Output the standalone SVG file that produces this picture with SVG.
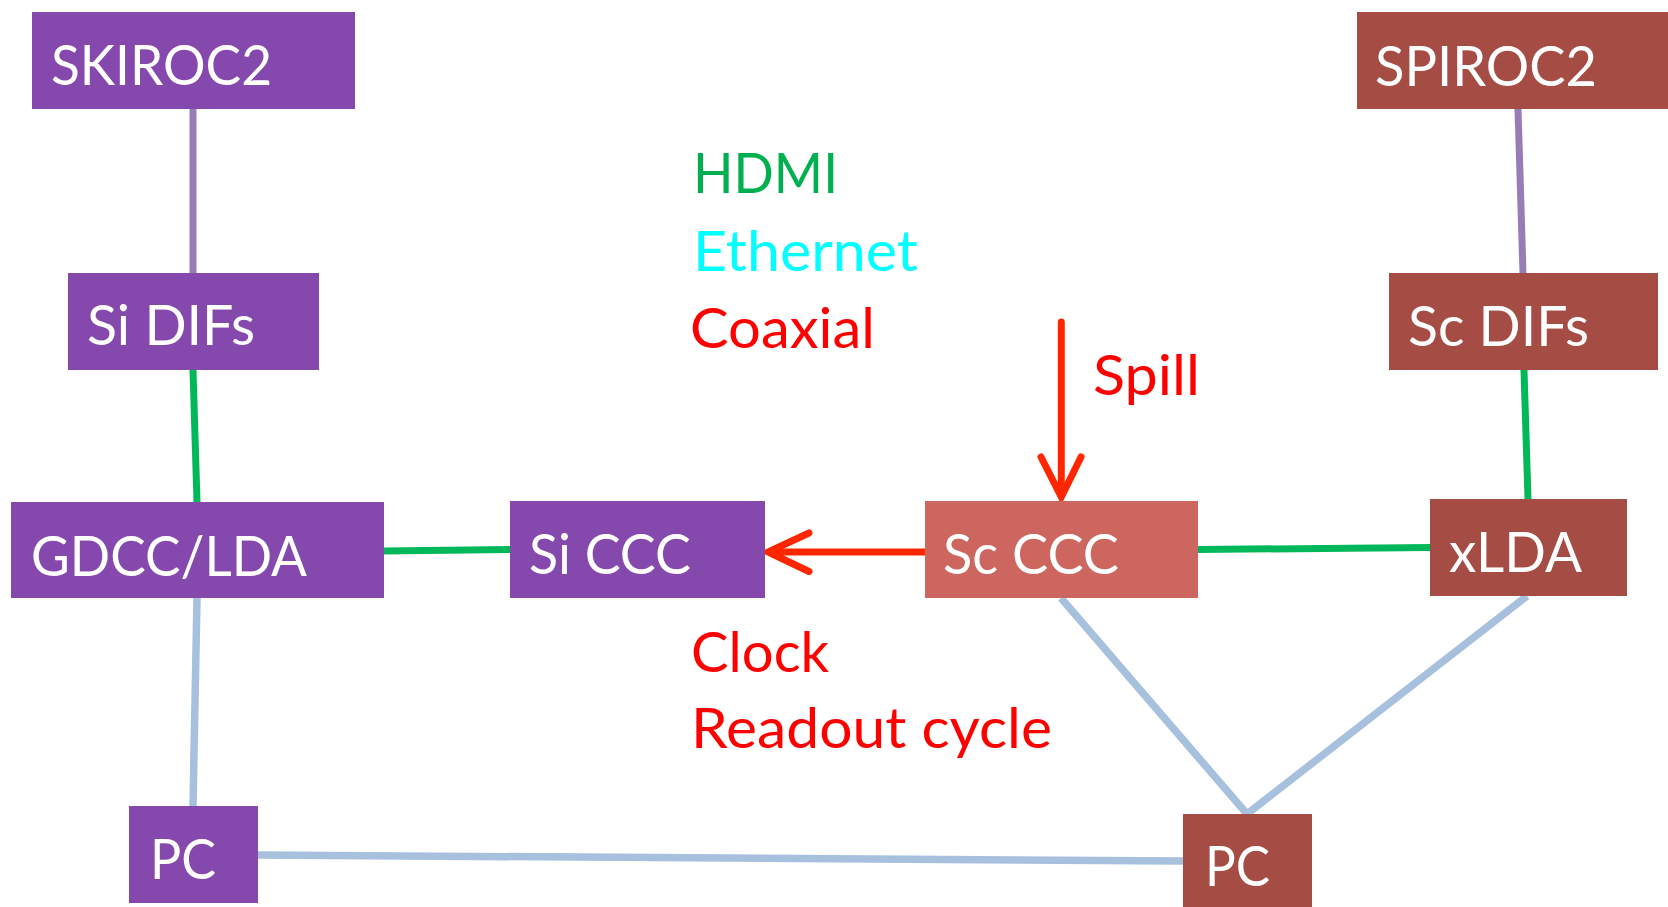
<svg xmlns="http://www.w3.org/2000/svg" width="1668" height="907" viewBox="0 0 1668 907">
  <style>
    .si { fill: #8548AD; }
    .sc { fill: #A54C45; }
    .sclight { fill: #CC665E; }
    .lbl { font-family: Lato, "Open Sans", "Liberation Sans", sans-serif; font-size: 56px; fill: #FFFFFF; }
    .leg { font-family: Lato, "Open Sans", "Liberation Sans", sans-serif; font-size: 56px; }
    .hdmi { stroke: #00B85A; stroke-width: 7; fill: none; }
    .eth { stroke: #A7C0DE; stroke-width: 7.5; fill: none; }
    .asic { stroke: #967DB6; stroke-width: 7; fill: none; }
    .coax { stroke: #FF2600; stroke-width: 7; fill: none; stroke-linecap: round; stroke-linejoin: miter; }
  </style>
  <rect width="1668" height="907" fill="#FFFFFF"/>

  <!-- cabling -->
  <g id="connectors">
    <line class="asic" x1="193" y1="109" x2="193" y2="273"/>
    <line class="asic" x1="1518" y1="109" x2="1523" y2="273"/>
    <line class="hdmi" x1="193" y1="370" x2="197" y2="502"/>
    <line class="hdmi" x1="1524" y1="370" x2="1528" y2="499"/>
    <line class="hdmi" x1="384" y1="551" x2="510" y2="549.5"/>
    <line class="hdmi" x1="1198" y1="549.5" x2="1430" y2="547.5"/>
    <line class="eth" x1="197" y1="598" x2="193" y2="806"/>
    <line class="eth" x1="258" y1="855" x2="1184" y2="861"/>
    <line class="eth" x1="1061" y1="598" x2="1247" y2="814"/>
    <line class="eth" x1="1527" y1="596" x2="1247" y2="814"/>
    <!-- clock / readout cycle, Sc CCC to Si CCC -->
    <line class="coax" x1="925" y1="552" x2="772" y2="552" stroke-linecap="butt"/>
    <path class="coax" d="M809 533 L768 552 L809 571.5"/>
    <!-- spill signal into Sc CCC -->
    <line class="coax" x1="1061.3" y1="322" x2="1061.3" y2="494" stroke-linecap="butt"/>
    <path class="coax" d="M1041 457 L1061.3 497 L1081 457"/>
  </g>

  <g id="skiroc2">
    <rect class="si" x="32" y="12" width="323" height="97"/>
    <text class="lbl" x="51" y="85" textLength="221" lengthAdjust="spacingAndGlyphs">SKIROC2</text>
  </g>
  <g id="si-difs">
    <rect class="si" x="68" y="273" width="251" height="97"/>
    <text class="lbl" x="87" y="345" textLength="168" lengthAdjust="spacingAndGlyphs">Si DIFs</text>
  </g>
  <g id="gdcc-lda">
    <rect class="si" x="11" y="502" width="373" height="96"/>
    <text class="lbl" x="31" y="576" textLength="276" lengthAdjust="spacingAndGlyphs">GDCC/LDA</text>
  </g>
  <g id="si-ccc">
    <rect class="si" x="510" y="501" width="255" height="97"/>
    <text class="lbl" x="529" y="574" textLength="162" lengthAdjust="spacingAndGlyphs">Si CCC</text>
  </g>
  <g id="pc-si">
    <rect class="si" x="129" y="806" width="129" height="97"/>
    <text class="lbl" x="150" y="879" textLength="66" lengthAdjust="spacingAndGlyphs">PC</text>
  </g>

  <g id="spiroc2">
    <rect class="sc" x="1357" y="12" width="311" height="97"/>
    <text class="lbl" x="1375" y="86" textLength="222" lengthAdjust="spacingAndGlyphs">SPIROC2</text>
  </g>
  <g id="sc-difs">
    <rect class="sc" x="1389" y="273" width="269" height="97"/>
    <text class="lbl" x="1408" y="346" textLength="181" lengthAdjust="spacingAndGlyphs">Sc DIFs</text>
  </g>
  <g id="sc-ccc">
    <rect class="sclight" x="925" y="501" width="273" height="97"/>
    <text class="lbl" x="943" y="574" textLength="176" lengthAdjust="spacingAndGlyphs">Sc CCC</text>
  </g>
  <g id="xlda">
    <rect class="sc" x="1430" y="499" width="197" height="97"/>
    <text class="lbl" x="1449" y="572" textLength="133" lengthAdjust="spacingAndGlyphs">xLDA</text>
  </g>
  <g id="pc-sc">
    <rect class="sc" x="1183" y="814" width="129" height="93"/>
    <text class="lbl" x="1205" y="886" textLength="65" lengthAdjust="spacingAndGlyphs">PC</text>
  </g>

  <!-- cable legend and signal names -->
  <g id="legend">
    <text class="leg" x="693" y="193" fill="#00B050" textLength="145" lengthAdjust="spacingAndGlyphs">HDMI</text>
    <text class="leg" x="693" y="271" fill="#00FFFF" textLength="225" lengthAdjust="spacingAndGlyphs">Ethernet</text>
    <text class="leg" x="690" y="348" fill="#FF0000" textLength="185" lengthAdjust="spacingAndGlyphs">Coaxial</text>
  </g>
  <g id="signals">
    <text class="leg" x="1093" y="395" fill="#FF0000" textLength="107" lengthAdjust="spacingAndGlyphs">Spill</text>
    <text class="leg" x="691" y="672" fill="#FF0000" textLength="138" lengthAdjust="spacingAndGlyphs">Clock</text>
    <text class="leg" x="691" y="748" fill="#FF0000" textLength="361" lengthAdjust="spacingAndGlyphs">Readout cycle</text>
  </g>
</svg>
